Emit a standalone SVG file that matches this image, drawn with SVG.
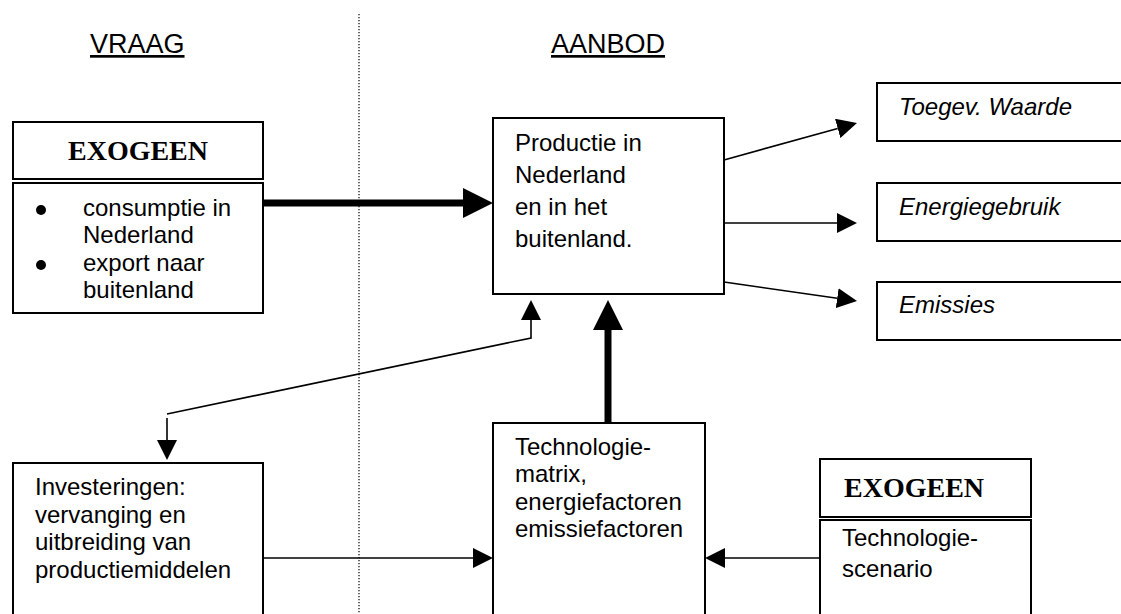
<svg xmlns="http://www.w3.org/2000/svg" width="1121" height="614" viewBox="0 0 1121 614">
  <style>
    .box { fill: #fff; stroke: #000; stroke-width: 2; }
    .txt { font-family: "Liberation Sans", Arial, sans-serif; font-size: 24px; fill: #000; }
    .it { font-style: italic; }
    .head { font-family: "Liberation Sans", Arial, sans-serif; font-size: 27px; fill: #000; text-decoration: underline; }
    .exo { font-family: "Liberation Serif", "Times New Roman", serif; font-size: 28px; font-weight: bold; fill: #000; }
    .thin { fill: none; stroke: #000; stroke-width: 1.6; }
    .thick { fill: none; stroke: #000; stroke-width: 7; }
    .divider { stroke: #000; stroke-width: 1.2; stroke-dasharray: 1.2 1.8; }
    .bullet { fill: #000; }
  </style>
  <defs>
    <marker id="arrow" viewBox="0 -10 20 20" refX="0" refY="0" markerWidth="20" markerHeight="20" markerUnits="userSpaceOnUse" orient="auto">
      <path d="M0,-10 L20,0 L0,10 Z" fill="#000"/>
    </marker>
    <marker id="arrow-lg" viewBox="0 -15 30 30" refX="0" refY="0" markerWidth="30" markerHeight="30" markerUnits="userSpaceOnUse" orient="auto">
      <path d="M0,-15 L30,0 L0,15 Z" fill="#000"/>
    </marker>
  </defs>
  <rect width="1121" height="614" fill="#fff"/>

  <!-- column headings and divider -->
  <g id="headings">
    <text class="head" x="90" y="53">VRAAG</text>
    <text class="head" x="551" y="53">AANBOD</text>
    <line class="divider" x1="359" y1="14" x2="359" y2="614"/>
  </g>

  <!-- connectors -->
  <g id="connectors">
    <line class="thick" x1="263" y1="203" x2="463" y2="203" marker-end="url(#arrow-lg)"/>
    <line class="thick" x1="608" y1="423" x2="608" y2="330" marker-end="url(#arrow-lg)"/>
    <line class="thin" x1="724" y1="160" x2="837.7" y2="128.4" marker-end="url(#arrow)"/>
    <line class="thin" x1="724" y1="223" x2="837" y2="223" marker-end="url(#arrow)"/>
    <line class="thin" x1="724" y1="282" x2="837.2" y2="298.2" marker-end="url(#arrow)"/>
    <polyline class="thin" points="167,414 531,338 531,320" marker-end="url(#arrow)"/>
    <line class="thin" x1="167" y1="418" x2="167" y2="440" marker-end="url(#arrow)"/>
    <line class="thin" x1="263" y1="558" x2="473" y2="558" marker-end="url(#arrow)"/>
    <line class="thin" x1="820" y1="558" x2="725" y2="558" marker-end="url(#arrow)"/>
  </g>

  <!-- exogenous demand -->
  <g id="exogeen-vraag">
    <rect class="box" x="13" y="122" width="250" height="57"/>
    <text class="exo" x="138" y="160" text-anchor="middle">EXOGEEN</text>
    <rect class="box" x="13" y="183" width="250" height="130"/>
    <circle class="bullet" cx="41" cy="210" r="5"/>
    <circle class="bullet" cx="41" cy="265" r="5"/>
    <text class="txt" x="83" y="216">consumptie in</text>
    <text class="txt" x="83" y="243">Nederland</text>
    <text class="txt" x="83" y="271">export naar</text>
    <text class="txt" x="83" y="298">buitenland</text>
  </g>

  <g id="productie">
    <rect class="box" x="493" y="118" width="231" height="176"/>
    <text class="txt" x="515" y="151">Productie in</text>
    <text class="txt" x="515" y="183">Nederland</text>
    <text class="txt" x="515" y="215">en in het</text>
    <text class="txt" x="515" y="247">buitenland.</text>
  </g>

  <g id="toegevoegde-waarde">
    <rect class="box" x="877" y="83" width="250" height="58"/>
    <text class="txt it" x="899" y="115">Toegev. Waarde</text>
  </g>

  <g id="energiegebruik">
    <rect class="box" x="877" y="183" width="250" height="58"/>
    <text class="txt it" x="899" y="215">Energiegebruik</text>
  </g>

  <g id="emissies">
    <rect class="box" x="877" y="282" width="250" height="58"/>
    <text class="txt it" x="899" y="313">Emissies</text>
  </g>

  <g id="investeringen">
    <rect class="box" x="13" y="463" width="250" height="160"/>
    <text class="txt" x="35" y="495">Investeringen:</text>
    <text class="txt" x="35" y="523">vervanging en</text>
    <text class="txt" x="35" y="550">uitbreiding van</text>
    <text class="txt" x="35" y="578">productiemiddelen</text>
  </g>

  <g id="technologie">
    <rect class="box" x="493" y="423" width="212" height="200"/>
    <text class="txt" x="515" y="455">Technologie-</text>
    <text class="txt" x="515" y="482">matrix,</text>
    <text class="txt" x="515" y="510">energiefactoren</text>
    <text class="txt" x="515" y="537">emissiefactoren</text>
  </g>

  <!-- exogenous technology scenario -->
  <g id="exogeen-technologie">
    <rect class="box" x="820" y="459" width="211" height="58"/>
    <text class="exo" x="844" y="497">EXOGEEN</text>
    <rect class="box" x="820" y="520" width="211" height="103"/>
    <text class="txt" x="842" y="546">Technologie-</text>
    <text class="txt" x="842" y="577">scenario</text>
  </g>
</svg>
